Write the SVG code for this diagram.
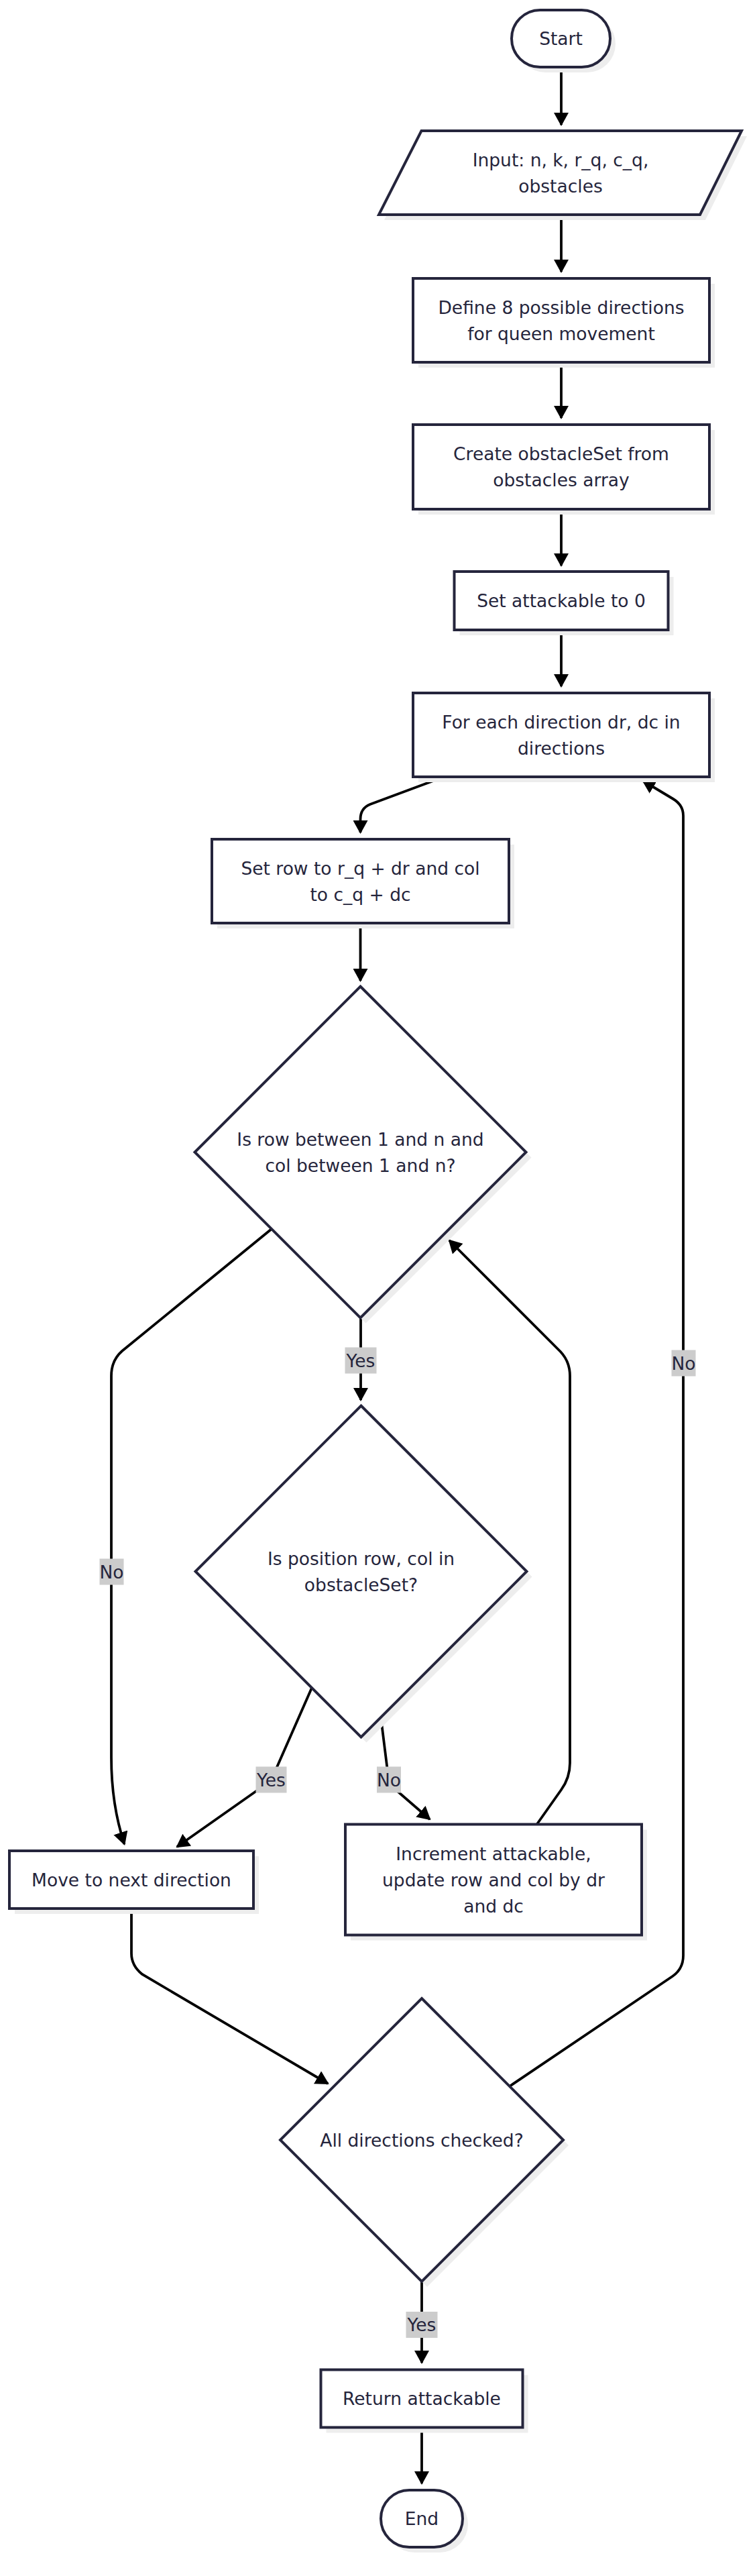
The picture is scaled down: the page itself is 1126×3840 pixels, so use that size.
<svg xmlns="http://www.w3.org/2000/svg" width="1126" height="3840" viewBox="0 0 1126 3840">
<defs>
<style>
.node{fill:#ffffff;stroke:#25253c;stroke-width:4}
.shadow{fill:#ededed;stroke:none}
.t{font-family:"DejaVu Sans",sans-serif;font-size:26.5px;fill:#25253c;text-anchor:middle;dominant-baseline:central}
.edge{fill:none;stroke:#000000;stroke-width:3.8}
.lbg{fill:#cccccc}
</style>
<marker id="arrow" markerUnits="userSpaceOnUse" viewBox="0 0 20 22" refX="18" refY="11" markerWidth="20" markerHeight="22" orient="auto">
<path d="M0,0 L20,11 L0,22 z" fill="#000000"/>
</marker>
</defs>
<rect x="0" y="0" width="1126" height="3840" fill="#ffffff"/>

<g id="connectors">
<path class="edge" marker-end="url(#arrow)" d="M837,100 L837,186"/>
<path class="edge" marker-end="url(#arrow)" d="M837,320 L837,405"/>
<path class="edge" marker-end="url(#arrow)" d="M837,540 L837,623"/>
<path class="edge" marker-end="url(#arrow)" d="M837,759 L837,843"/>
<path class="edge" marker-end="url(#arrow)" d="M837,939 L837,1023"/>
<path class="edge" marker-end="url(#arrow)" d="M665,1157 L552,1199 Q537.5,1205 537.5,1221 L537.5,1241"/>
<path class="edge" marker-end="url(#arrow)" d="M537.5,1376 L537.5,1462"/>
<path class="edge" marker-end="url(#arrow)" d="M405,1832 L182,2014 Q166,2028 166,2051 L166,2620 Q166,2690 185.5,2749"/>
<path class="edge" marker-end="url(#arrow)" d="M538,1965 L538,2087"/>
<path class="edge" marker-end="url(#arrow)" d="M465,2516 L410,2641 Q404,2655 392,2663 L264,2753"/>
<path class="edge" marker-end="url(#arrow)" d="M568,2560 L578,2640 Q580,2655 589,2667 L641,2712"/>
<path class="edge" marker-end="url(#arrow)" d="M801,2719 L837,2668 Q850,2650 850,2628 L850,2051 Q850,2030 836,2015 L670,1849"/>
<path class="edge" marker-end="url(#arrow)" d="M196,2845 L196,2912 Q196,2930 212,2943 L489,3106"/>
<path class="edge" marker-end="url(#arrow)" d="M760,3110 L1003,2946 Q1019,2935 1019,2915 L1019,1216 Q1019,1200 1004,1191 L959,1164"/>
<path class="edge" marker-end="url(#arrow)" d="M629,3401 L629,3522"/>
<path class="edge" marker-end="url(#arrow)" d="M629,3618 L629,3702"/>
<g id="edge-labels">
<rect class="lbg" x="148.5" y="2323.5" width="36" height="39"/>
<text class="t" x="166.5" y="2343">No</text>
<rect class="lbg" x="514.5" y="2008.5" width="47" height="39"/>
<text class="t" x="538" y="2028">Yes</text>
<rect class="lbg" x="381.5" y="2633.5" width="46" height="39"/>
<text class="t" x="404.5" y="2653">Yes</text>
<rect class="lbg" x="562" y="2633.5" width="36" height="39"/>
<text class="t" x="580" y="2653">No</text>
<rect class="lbg" x="1001.5" y="2012.5" width="36" height="39"/>
<text class="t" x="1019.5" y="2032">No</text>
<rect class="lbg" x="605.5" y="3446" width="47" height="39"/>
<text class="t" x="629" y="3465.5">Yes</text>
</g>
</g>

<g id="start">
<rect class="shadow" x="771" y="23" width="147" height="85" rx="42.5"/>
<rect class="node" x="763" y="15" width="147" height="85" rx="42.5"/>
<text class="t" x="836.5" y="57.5">Start</text>
</g>

<g id="input">
<polygon class="shadow" points="636.5,203 1114,203 1052,328 573,328"/>
<polygon class="node" points="628.5,195 1106,195 1044,320 565,320"/>
<text class="t" x="836" y="238">Input: n, k, r_q, c_q,</text>
<text class="t" x="836" y="277">obstacles</text>
</g>

<g id="define">
<rect class="shadow" x="624" y="423" width="442" height="125"/>
<rect class="node" x="616" y="415" width="442" height="125"/>
<text class="t" x="837" y="458">Define 8 possible directions</text>
<text class="t" x="837" y="497">for queen movement</text>
</g>

<g id="create">
<rect class="shadow" x="624" y="641" width="442" height="126"/>
<rect class="node" x="616" y="633" width="442" height="126"/>
<text class="t" x="837" y="676.5">Create obstacleSet from</text>
<text class="t" x="837" y="715.5">obstacles array</text>
</g>

<g id="setattackable">
<rect class="shadow" x="685.5" y="860" width="319" height="87"/>
<rect class="node" x="677.5" y="852" width="319" height="87"/>
<text class="t" x="837" y="895.5">Set attackable to 0</text>
</g>

<g id="foreach">
<rect class="shadow" x="624" y="1041" width="442" height="125"/>
<rect class="node" x="616" y="1033" width="442" height="125"/>
<text class="t" x="837" y="1076">For each direction dr, dc in</text>
<text class="t" x="837" y="1115">directions</text>
</g>

<g id="setrow">
<rect class="shadow" x="324" y="1259" width="443" height="125"/>
<rect class="node" x="316" y="1251" width="443" height="125"/>
<text class="t" x="537.5" y="1294">Set row to r_q + dr and col</text>
<text class="t" x="537.5" y="1333">to c_q + dc</text>
</g>

<g id="inbounds">
<polygon class="shadow" points="545.5,1478.5 792.5,1725.5 545.5,1972.5 298.5,1725.5"/>
<polygon class="node" points="537.5,1470.5 784.5,1717.5 537.5,1964.5 290.5,1717.5"/>
<text class="t" x="537.5" y="1698">Is row between 1 and n and</text>
<text class="t" x="537.5" y="1737">col between 1 and n?</text>
</g>

<g id="obstaclecheck">
<polygon class="shadow" points="546.5,2103.5 793.5,2350.5 546.5,2597.5 299.5,2350.5"/>
<polygon class="node" points="538.5,2095.5 785.5,2342.5 538.5,2589.5 291.5,2342.5"/>
<text class="t" x="538.5" y="2323">Is position row, col in</text>
<text class="t" x="538.5" y="2362">obstacleSet?</text>
</g>

<g id="movenext">
<rect class="shadow" x="22" y="2767" width="364" height="86"/>
<rect class="node" x="14" y="2759" width="364" height="86"/>
<text class="t" x="196" y="2802">Move to next direction</text>
</g>

<g id="increment">
<rect class="shadow" x="523" y="2727.5" width="442" height="165"/>
<rect class="node" x="515" y="2719.5" width="442" height="165"/>
<text class="t" x="736" y="2763">Increment attackable,</text>
<text class="t" x="736" y="2802">update row and col by dr</text>
<text class="t" x="736" y="2841">and dc</text>
</g>

<g id="allchecked">
<polygon class="shadow" points="637,2987 848,3198 637,3409 426,3198"/>
<polygon class="node" points="629,2979 840,3190 629,3401 418,3190"/>
<text class="t" x="629" y="3190">All directions checked?</text>
</g>

<g id="return">
<rect class="shadow" x="486.5" y="3540.5" width="301" height="86"/>
<rect class="node" x="478.5" y="3532.5" width="301" height="86"/>
<text class="t" x="629" y="3575.5">Return attackable</text>
</g>

<g id="end">
<rect class="shadow" x="576" y="3720" width="122" height="85" rx="42.5"/>
<rect class="node" x="568" y="3712" width="122" height="85" rx="42.5"/>
<text class="t" x="629" y="3754.5">End</text>
</g>
</svg>
